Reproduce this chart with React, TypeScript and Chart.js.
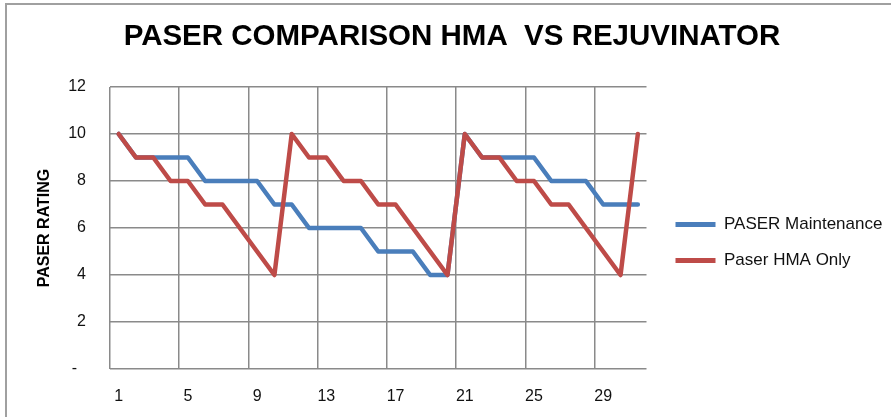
import React, { useEffect, useRef } from "react";
import { Chart, registerables } from "chart.js";

Chart.register(...registerables);

const FONT = "'Liberation Sans', Arial, sans-serif";

const categories = [
  "1", "2", "3", "4", "5", "6", "7", "8", "9", "10",
  "11", "12", "13", "14", "15", "16", "17", "18", "19", "20",
  "21", "22", "23", "24", "25", "26", "27", "28", "29", "30", "31",
];
const shownXTicks = ["1", "5", "9", "13", "17", "21", "25", "29"];
const paserMaintenance = [
  10, 9, 9, 9, 9, 8, 8, 8, 8, 7, 7, 6, 6, 6, 6, 5, 5, 5, 4, 4,
  10, 9, 9, 9, 9, 8, 8, 8, 7, 7, 7,
];
const paserHmaOnly = [
  10, 9, 9, 8, 8, 7, 7, 6, 5, 4, 10, 9, 9, 8, 8, 7, 7, 6, 5, 4,
  10, 9, 9, 8, 8, 7, 7, 6, 5, 4, 10,
];
const seriesNames = ["PASER Maintenance", "Paser HMA Only"];
const titleText = "PASER COMPARISON HMA  VS REJUVINATOR";
const yTitle = "PASER RATING";

const GRID = "#8a8a8a";
const BLUE = "#4a7ebb";
const RED = "#be4b48";

const framePlugin = {
  id: "frame",
  beforeDraw(chart: any) {
    const ctx = chart.ctx;
    ctx.save();
    ctx.fillStyle = "#ffffff";
    ctx.fillRect(0, 0, chart.width, chart.height);
    ctx.strokeStyle = "#a0a0a0";
    ctx.lineWidth = 2;
    ctx.beginPath();
    ctx.moveTo(6, chart.height);
    ctx.lineTo(6, 4);
    ctx.lineTo(chart.width, 4);
    ctx.stroke();
    ctx.restore();
  },
};

// Nudge the legend and title blocks to the spots they hold in the reference.
const blockShift = {
  id: "blockShift",
  afterLayout(chart: any) {
    const l = chart.legend;
    if (l) {
      l.left += 10;
      l.right = chart.width;
      l.width = l.right - l.left;
      l.top += 34;
      l.bottom += 34;
    }
    const t = chart.titleBlock;
    if (t) {
      t.left += 21;
      t.right += 21;
    }
  },
};

export default function App() {
  const ref = useRef<HTMLCanvasElement | null>(null);
  useEffect(() => {
    if (!ref.current) return;
    const chart = new Chart(ref.current, {
      type: "line",
      data: {
        labels: categories,
        datasets: [
          {
            label: seriesNames[0],
            data: paserMaintenance,
            borderColor: BLUE,
            backgroundColor: BLUE,
            borderWidth: 4.5,
            pointRadius: 0,
            tension: 0,
            order: 2,
            borderCapStyle: "round",
            borderJoinStyle: "round",
          },
          {
            label: seriesNames[1],
            data: paserHmaOnly,
            borderColor: RED,
            backgroundColor: RED,
            borderWidth: 4.5,
            pointRadius: 0,
            tension: 0,
            order: 1,
            borderCapStyle: "round",
            borderJoinStyle: "round",
          },
        ],
      },
      options: {
        responsive: false,
        animation: false,
        events: [],
        layout: { padding: { left: 0, top: 0, right: 29, bottom: 0 } },
        plugins: {
          title: {
            display: true,
            text: titleText,
            color: "#000",
            font: { family: FONT, size: 29.5, weight: "bold", lineHeight: 1.2 },
            padding: { top: 19.5, bottom: 32.1 },
          },
          legend: {
            position: "right",
            labels: {
              font: { family: FONT, size: 17 },
              color: "#111",
              boxWidth: 40,
              boxHeight: 5,
              padding: 19,
              sort: (a: any, b: any) => a.datasetIndex - b.datasetIndex,
              generateLabels: (c: any) =>
                Chart.defaults.plugins.legend.labels
                  .generateLabels(c)
                  .map((it: any) => ({ ...it, lineWidth: 0 })),
            },
          },
          tooltip: { enabled: false },
        },
        scales: {
          x: {
            offset: true,
            grid: {
              offset: true,
              drawTicks: false,
              lineWidth: 1.5,
              color: (c: any) => (c.index % 4 === 0 ? GRID : "rgba(0,0,0,0)"),
            },
            border: { display: false },
            ticks: {
              autoSkip: false,
              maxRotation: 0,
              padding: 18,
              color: "#111",
              font: { family: FONT, size: 16 },
              callback: (_v: any, i: number) =>
                shownXTicks.includes(categories[i]) ? categories[i] : "",
            },
            afterFit: (s: any) => {
              s.height = 48;
            },
          },
          y: {
            min: 0,
            max: 12,
            grid: { drawTicks: false, lineWidth: 1.5, color: GRID },
            border: { display: false },
            ticks: {
              stepSize: 2,
              padding: 24,
              color: "#111",
              font: { family: FONT, size: 16 },
              callback: (v: any) => (v === 0 ? "-  " : String(v)),
            },
            title: {
              display: true,
              text: yTitle,
              color: "#000",
              font: { family: FONT, size: 16, weight: "bold", lineHeight: 1.2 },
              padding: { top: 35.4, bottom: 0 },
            },
            afterFit: (s: any) => {
              s.width = 110;
            },
          },
        },
      },
      plugins: [framePlugin, blockShift],
    });
    return () => chart.destroy();
  }, []);
  return (
    <div style={{ position: "absolute", left: 0, top: 0, width: 891, height: 417 }}>
      <canvas ref={ref} width={891} height={417} style={{ width: 891, height: 417, display: "block" }} />
    </div>
  );
}
